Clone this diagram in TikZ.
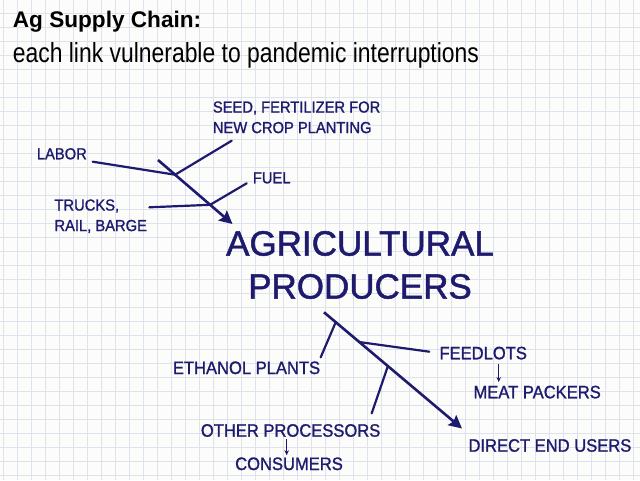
\documentclass[tikz,border=0pt]{standalone}
\usepackage{fontspec}
\setmainfont{Liberation Sans}
\newfontfamily\labfont[FakeStretch=0.92,FakeBold=1.2]{Liberation Sans}
\newfontfamily\bigfont[FakeBold=1.4]{Liberation Sans}
\newfontfamily\subfont[FakeStretch=0.83]{Liberation Sans}
\usetikzlibrary{arrows.meta,calc}
\definecolor{navy}{HTML}{1E1B6E}
\definecolor{gridc}{HTML}{DDE2EC}
\definecolor{paper}{HTML}{FCFCFA}
\begin{document}
\begin{tikzpicture}[x=1pt,y=-1pt,
  lab/.style={inner sep=0pt,text=navy,font=\labfont\fontsize{16}{20.5}\selectfont,align=left},
  labB/.style={inner sep=0pt,text=navy,font=\labfont\fontsize{18}{22}\selectfont,anchor=base west},
  mainarrow/.style={draw=navy,line width=2.6pt,-{Stealth[length=13pt,width=13pt,inset=2pt]}},
  branch/.style={draw=navy,line width=2.2pt,line cap=round},
  smallarrow/.style={draw=navy,line width=1pt,-{Stealth[length=5pt,width=4.5pt]}}]
\fill[paper] (0,0) rectangle (640,480);
\useasboundingbox (0,0) rectangle (640,480);
\begin{scope}
\clip (0,0) rectangle (640,480);
\foreach \i in {0,...,45} \draw[gridc,line width=1.2pt] (3.3+14*\i,0) -- (3.3+14*\i,480);
\foreach \j in {0,...,35} \draw[gridc,line width=1.2pt] (0,-0.7+14*\j) -- (640,-0.7+14*\j);
\end{scope}
% titles
\node[font=\bfseries\fontsize{22.6}{26}\selectfont,anchor=base west,inner sep=0pt] (title) at (12.7,27.9) {Ag Supply Chain:};
\node[font=\subfont\fontsize{27.6}{30}\selectfont,anchor=base west,inner sep=0pt] (sub) at (12.7,62.5) {each link vulnerable to pandemic interruptions};
% top labels
\node[lab,anchor=north west] (seed) at (212.7,101.2) {SEED, FERTILIZER FOR\\NEW CROP PLANTING};
\node[lab,anchor=base west] (labor) at (36.7,159.3) {LABOR};
\node[lab,anchor=base west] (fuel) at (252.7,183.3) {FUEL};
\node[lab,anchor=north west] (trucks) at (54.3,199.2) {TRUCKS,\\RAIL, BARGE};
% center
\node[inner sep=0pt,text=navy,font=\bigfont\fontsize{35}{43}\selectfont,align=center,anchor=north] (prod) at (360,230.9) {AGRICULTURAL\\PRODUCERS};
% bottom labels
\node[labB] (ethanol) at (172.7,374) {ETHANOL PLANTS};
\node[labB] (feedlots) at (439.3,359.3) {FEEDLOTS};
\node[labB] (meat) at (473.3,398.3) {MEAT PACKERS};
\node[labB] (other) at (200.7,436.7) {OTHER PROCESSORS};
\node[labB] (consumers) at (235,470) {CONSUMERS};
\node[labB] (direct) at (468.3,451.7) {DIRECT END USERS};
% top tree
\coordinate (ts) at (158,160);
\coordinate (te) at (232.5,224);
\coordinate (j1) at ($(ts)!0.23!(te)$);
\coordinate (j2) at ($(ts)!0.70!(te)$);
\coordinate (laborEnd) at (92.7,161.7);
\coordinate (seedEnd) at (231.7,140.7);
\coordinate (fuelEnd) at (246.7,183.3);
\coordinate (trucksEnd) at (149.3,207.3);
\draw[branch] (laborEnd) -- (j1);
\draw[branch] (seedEnd) -- (j1);
\draw[branch] (fuelEnd) -- (j2);
\draw[branch] (trucksEnd) -- (j2);
\draw[mainarrow] (ts) -- (te);
% bottom tree
\coordinate (bs) at (324,312.3);
\coordinate (be) at (462,428.5);
\coordinate (jE) at ($(bs)!0.085!(be)$);
\coordinate (jF) at ($(bs)!0.256!(be)$);
\coordinate (jO) at ($(bs)!0.463!(be)$);
\coordinate (ethEnd) at (320.7,357.3);
\coordinate (feedEnd) at (429.3,351.7);
\coordinate (othEnd) at (371.7,413.3);
\draw[branch] (ethEnd) -- (jE);
\draw[branch] (feedEnd) -- (jF);
\draw[branch] (othEnd) -- (jO);
\draw[mainarrow] (bs) -- (be);
% small arrows
\draw[smallarrow,shorten <=4pt,shorten >=3.5pt] (feedlots.south -| 498.7,0) -- (meat.north -| 498.7,0);
\draw[smallarrow,shorten <=1.6pt,shorten >=2pt] (other.south -| 286.7,0) -- (consumers.north -| 286.7,0);
\end{tikzpicture}
\end{document}
